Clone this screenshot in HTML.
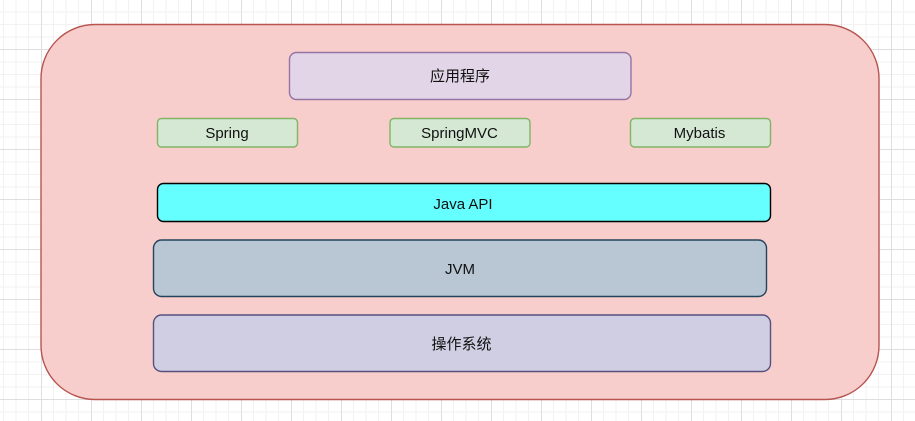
<!DOCTYPE html>
<html>
<head>
<meta charset="utf-8">
<style>
html,body{margin:0;padding:0;background:#fff;width:915px;height:421px;overflow:hidden}
svg{display:block}
text{font-family:"Liberation Sans","Noto Sans CJK SC",sans-serif;font-size:15px;fill:#111;text-anchor:middle}
</style>
</head>
<body>
<svg width="915" height="421" viewBox="0 0 915 421" xmlns="http://www.w3.org/2000/svg">
<defs>
<pattern id="grid" x="41" y="-1" width="50" height="50" patternUnits="userSpaceOnUse">
<path d="M12.5 0V50M25 0V50M37.5 0V50M0 13H50M0 25.500H50M0 38H50" fill="none" stroke="#f2f2f2" stroke-width="1"/>
<path d="M.5 0V50M0 .5H50" fill="none" stroke="#dedede" stroke-width="1"/>
</pattern>
</defs>
<rect width="915" height="421" fill="#fff"/>
<rect width="915" height="421" fill="url(#grid)"/>

<rect x="41" y="24.5" width="838" height="375" rx="54" ry="54" fill="#f8cecc" stroke="#b85450" stroke-width="1.4"/>

<rect x="289.5" y="52.5" width="341.5" height="47" rx="7" fill="#e1d5e7" stroke="#9673a6" stroke-width="1.4"/>
<text x="460" y="81">应用程序</text>

<rect x="157.5" y="118.5" width="140" height="28.5" rx="4" fill="#d5e8d4" stroke="#82b366" stroke-width="1.4"/>
<text x="227" y="138">Spring</text>

<rect x="390" y="118.5" width="140" height="28.5" rx="4" fill="#d5e8d4" stroke="#82b366" stroke-width="1.4"/>
<text x="459.500" y="138">SpringMVC</text>

<rect x="630.500" y="118.5" width="140" height="28.5" rx="4" fill="#d5e8d4" stroke="#82b366" stroke-width="1.4"/>
<text x="699.5" y="138">Mybatis</text>

<rect x="157.500" y="183.5" width="613" height="38" rx="6" fill="#66ffff" stroke="#000" stroke-width="1.4"/>
<text x="463" y="209">Java API</text>

<rect x="153.500" y="240" width="613" height="56.500" rx="8" fill="#b8c7d3" stroke="#23445d" stroke-width="1.4"/>
<text x="460" y="274">JVM</text>

<rect x="153.500" y="315" width="617" height="56.500" rx="8" fill="#d0cee2" stroke="#56517e" stroke-width="1.4"/>
<text x="461.500" y="349">操作系统</text>
</svg>
</body>
</html>
